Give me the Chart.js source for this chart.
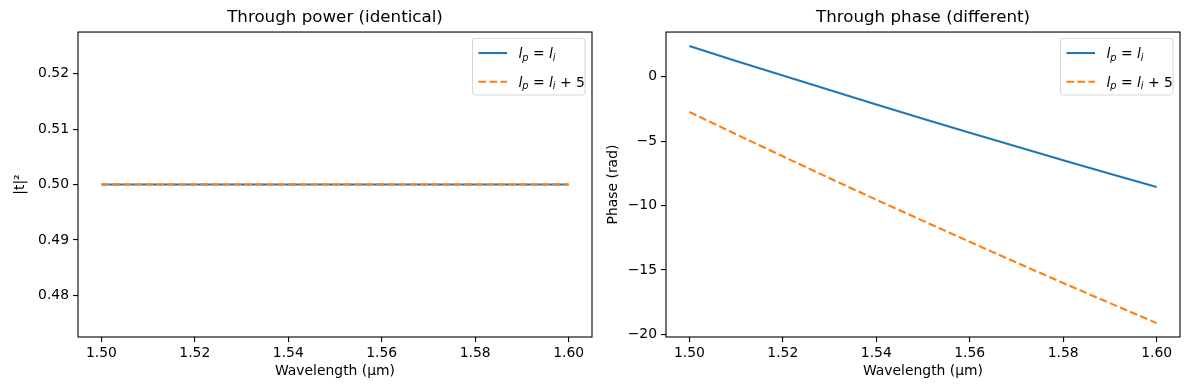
<!DOCTYPE html>
<html>
<head>
<meta charset="utf-8">
<script src="https://cdn.jsdelivr.net/npm/chart.js@4"></script>
<style>
  body { margin: 0; background: #fff; }
  .wrap { position: absolute; top: 0; }
</style>
</head>
<body>
<div class="wrap" style="left:0"><canvas id="PowerChart" width="595" height="390"></canvas></div>
<div class="wrap" style="left:595px"><canvas id="PhaseChart" width="595" height="390"></canvas></div>
<script>
// wavelength samples (um)
const wavelength = [1.50, 1.51, 1.52, 1.53, 1.54, 1.55, 1.56, 1.57, 1.58, 1.59, 1.60];
// |t|^2, same for both cases
const powerSame = [0.5, 0.5, 0.5, 0.5, 0.5, 0.5, 0.5, 0.5, 0.5, 0.5, 0.5];
const powerShift = [0.5, 0.5, 0.5, 0.5, 0.5, 0.5, 0.5, 0.5, 0.5, 0.5, 0.5];
// phase (rad)
const phaseSame = [2.39, 1.23, 0.09, -1.04, -2.16, -3.26, -4.35, -5.42, -6.48, -7.53, -8.57];
const phaseShift = [-2.73, -4.47, -6.18, -7.88, -9.55, -11.19, -12.82, -14.43, -16.02, -17.58, -19.13];

const xTicks = [1.50, 1.52, 1.54, 1.56, 1.58, 1.60];
const powerTicks = [0.48, 0.49, 0.50, 0.51, 0.52];
const phaseTicks = [-20, -15, -10, -5, 0];

const legendSame = [{t: 'l', it: true}, {t: 'p', it: true, sub: true}, {t: ' = '}, {t: 'l', it: true}, {t: 'i', it: true, sub: true}];
const legendShift = [{t: 'l', it: true}, {t: 'p', it: true, sub: true}, {t: ' = '}, {t: 'l', it: true}, {t: 'i', it: true, sub: true}, {t: ' + 5'}];

const FAMILY = '"DejaVu Sans", sans-serif';
const FS = 13.9;
const BLUE = '#1f77b4';
const ORANGE = '#ff7f0e';

function pts(ys) {
    return wavelength.map((x, i) => ({x: x, y: ys[i]}));
}

function fmtMinus(v) {
    return v < 0 ? '\u2212' + Math.abs(v) : String(v);
}

function drawMath(ctx, parts, x, y) {
    parts.forEach(p => {
        const size = p.sub ? FS * 0.7 : FS;
        ctx.font = (p.it ? 'italic ' : '') + size + 'px ' + FAMILY;
        ctx.fillText(p.t, x, y + (p.sub ? 2.6 : 0));
        x += ctx.measureText(p.t).width;
    });
}

// frame around the axes + matplotlib-like legend box
const boxPlugin = {
    id: 'mplBox',
    afterDraw(chart, args, opts) {
        const ctx = chart.ctx;
        const a = chart.chartArea;
        ctx.save();
        ctx.strokeStyle = '#000';
        ctx.lineWidth = 1.1;
        ctx.strokeRect(a.left, a.top, a.right - a.left, a.bottom - a.top);

        // legend
        const w = 112.5, h = 56.7;
        const lx = a.right - 7 - w, ly = a.top + 6.3;
        ctx.beginPath();
        ctx.roundRect(lx, ly, w, h, 3);
        ctx.fillStyle = 'rgba(255,255,255,0.8)';
        ctx.fill();
        ctx.strokeStyle = 'rgba(204,204,204,0.8)';
        ctx.lineWidth = 1;
        ctx.stroke();

        const rows = [ly + 14.7, ly + 43.4];
        opts.items.forEach((it, i) => {
            ctx.beginPath();
            ctx.strokeStyle = it.color;
            ctx.lineWidth = 2.1;
            ctx.setLineDash(it.dash);
            ctx.moveTo(lx + 6, rows[i]);
            ctx.lineTo(lx + 34.5, rows[i]);
            ctx.stroke();
            ctx.setLineDash([]);
            ctx.fillStyle = '#000';
            ctx.textBaseline = 'alphabetic';
            ctx.textAlign = 'left';
            drawMath(ctx, it.label, lx + 46, rows[i] + 5);
        });
        ctx.restore();
    }
};

function createChart(id, cfg) {
    const font = {family: FAMILY, size: FS};
    const ctx = document.getElementById(id).getContext('2d');
    return new Chart(ctx, {
        type: 'line',
        data: {
            datasets: [{
                data: pts(cfg.a),
                borderColor: BLUE,
                borderWidth: 2.1,
                pointRadius: 0,
                fill: false,
                order: 1
            }, {
                data: pts(cfg.b),
                borderColor: ORANGE,
                borderWidth: 2.1,
                borderDash: [7.7, 3.3],
                pointRadius: 0,
                fill: false,
                order: 0
            }]
        },
        options: {
            responsive: false,
            animation: false,
            events: [],
            layout: {padding: {left: 0, right: cfg.padRight, top: 0, bottom: 0}},
            plugins: {
                legend: {display: false},
                tooltip: {enabled: false},
                title: {
                    display: true,
                    text: cfg.title,
                    fullSize: false,
                    color: '#000',
                    font: {family: FAMILY, size: 16.7, weight: 'normal'},
                    padding: {top: 8, bottom: 4}
                },
                mplBox: {items: [
                    {color: BLUE, dash: [], label: legendSame},
                    {color: ORANGE, dash: [7.7, 3.3], label: legendShift}
                ]}
            },
            scales: {
                x: {
                    type: 'linear',
                    min: 1.495,
                    max: 1.605,
                    afterBuildTicks: s => { s.ticks = xTicks.map(v => ({value: v})); },
                    afterFit: s => { s.height = 53; },
                    grid: {drawOnChartArea: false, drawTicks: true, tickLength: 5, color: '#000', lineWidth: 1.1},
                    border: {display: false},
                    ticks: {color: '#000', font: font, padding: 3, maxRotation: 0, autoSkip: false,
                        callback: v => v.toFixed(2)},
                    title: {display: true, text: 'Wavelength (µm)', color: '#000', font: font,
                        padding: {top: 0, bottom: 10}}
                },
                y: {
                    type: 'linear',
                    min: cfg.ymin,
                    max: cfg.ymax,
                    afterBuildTicks: s => { s.ticks = cfg.ticks.map(v => ({value: v})); },
                    afterFit: s => { s.width = cfg.yWidth; },
                    grid: {drawOnChartArea: false, drawTicks: true, tickLength: 5, color: '#000', lineWidth: 1.1},
                    border: {display: false},
                    ticks: {color: '#000', font: font, padding: 4, autoSkip: false, callback: cfg.fmt},
                    title: {display: true, text: cfg.ylabel, color: '#000', font: font,
                        padding: {top: cfg.yTitlePad, bottom: 0}}
                }
            }
        },
        plugins: [boxPlugin]
    });
}

createChart('PowerChart', {
    a: powerSame, b: powerShift,
    title: 'Through power (identical)',
    ylabel: '|t|²',
    ymin: 0.4725, ymax: 0.5275,
    ticks: powerTicks,
    fmt: v => v.toFixed(2),
    yWidth: 78, yTitlePad: 12, padRight: 3
});
createChart('PhaseChart', {
    a: phaseSame, b: phaseShift,
    title: 'Through phase (different)',
    ylabel: 'Phase (rad)',
    ymin: -20.21, ymax: 3.47,
    ticks: phaseTicks,
    fmt: fmtMinus,
    yWidth: 71, yTitlePad: 10, padRight: 10
});
</script>
</body>
</html>
